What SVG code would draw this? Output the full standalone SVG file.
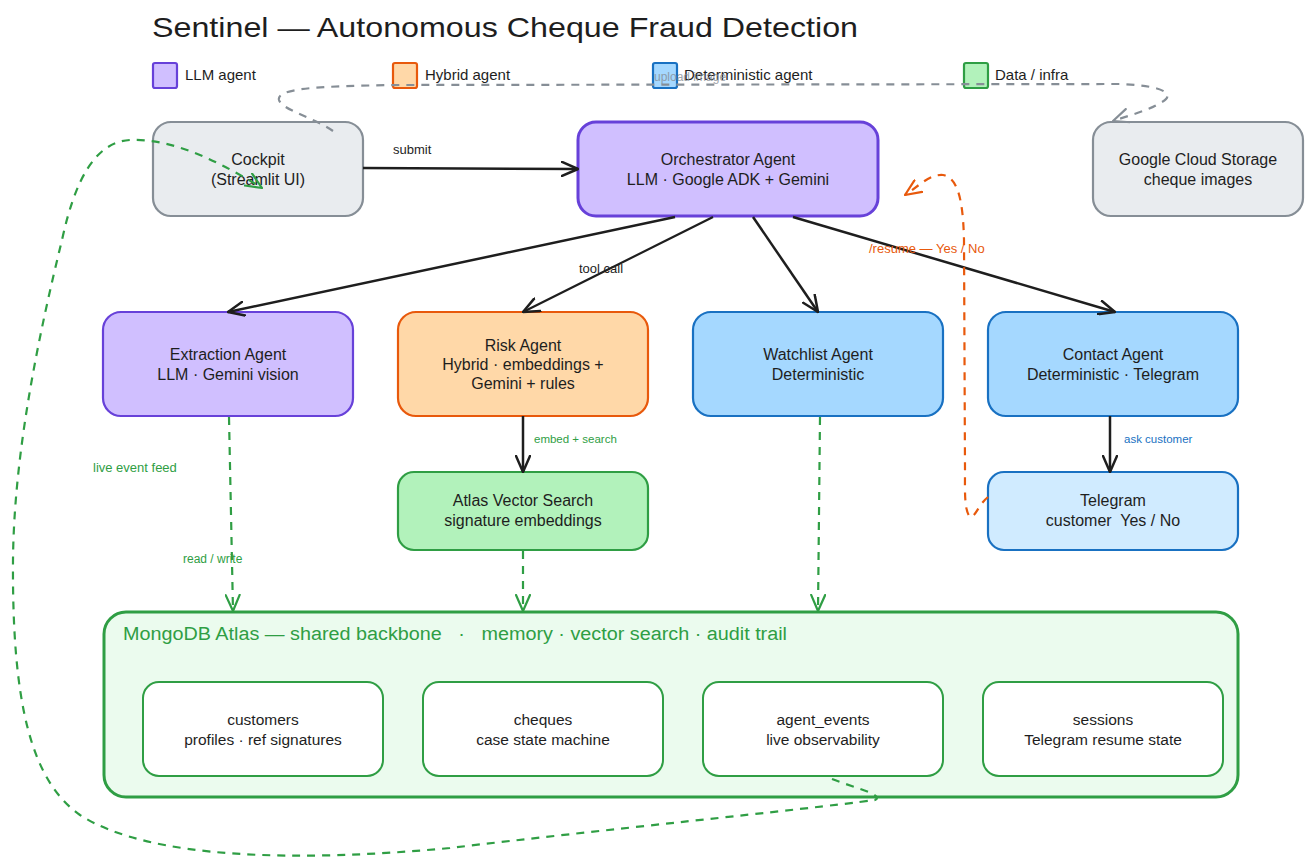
<svg xmlns="http://www.w3.org/2000/svg" width="1313" height="865" viewBox="0 0 1313 865">
<style>
  text { font-family: "Liberation Sans", Arial, sans-serif; fill: #1e1e1e; }
  .nt { font-size: 16px; text-anchor: middle; }
  .st { font-size: 15.5px; text-anchor: middle; }
  .lg { font-size: 15px; }
  .lbl { font-size: 13px; }
  .llm { fill: #d0bfff; stroke: #6741d9; stroke-width: 2.2; }
  .hyb { fill: #ffd8a8; stroke: #e8590c; stroke-width: 2.2; }
  .det { fill: #a5d8ff; stroke: #1971c2; stroke-width: 2.2; }
  .tel { fill: #d0ebff; stroke: #1971c2; stroke-width: 2.2; }
  .dat { fill: #b2f2bb; stroke: #2f9e44; stroke-width: 2.2; }
  .inf { fill: #e9ecef; stroke: #868e96; stroke-width: 2.2; }
  .col { fill: #ffffff; stroke: #2f9e44; stroke-width: 2; }
  .solid { fill: none; stroke: #1e1e1e; stroke-width: 2.5; marker-end: url(#ahB); }
  .gdash { fill: none; stroke: #2f9e44; stroke-width: 2.2; stroke-dasharray: 8 7; marker-end: url(#ahG); }
</style>
<defs>
  <marker id="ahB" viewBox="0 0 18 16" markerWidth="18" markerHeight="16" refX="17" refY="8" orient="auto" markerUnits="userSpaceOnUse">
    <path d="M1,1 L17,8 L1,15" fill="none" stroke="#1e1e1e" stroke-width="2.5" stroke-linecap="round" stroke-linejoin="round"/>
  </marker>
  <marker id="ahG" viewBox="0 0 18 16" markerWidth="18" markerHeight="16" refX="17" refY="8" orient="auto" markerUnits="userSpaceOnUse">
    <path d="M1,1 L17,8 L1,15" fill="none" stroke="#2f9e44" stroke-width="2.2" stroke-linecap="round" stroke-linejoin="round"/>
  </marker>
  <marker id="ahO" viewBox="0 0 18 16" markerWidth="18" markerHeight="16" refX="17" refY="8" orient="auto" markerUnits="userSpaceOnUse">
    <path d="M1,1 L17,8 L1,15" fill="none" stroke="#e8590c" stroke-width="2.2" stroke-linecap="round" stroke-linejoin="round"/>
  </marker>
  <marker id="ahY" viewBox="0 0 18 16" markerWidth="18" markerHeight="16" refX="17" refY="8" orient="auto" markerUnits="userSpaceOnUse">
    <path d="M1,1 L17,8 L1,15" fill="none" stroke="#868e96" stroke-width="2.2" stroke-linecap="round" stroke-linejoin="round"/>
  </marker>
</defs>
<rect width="1313" height="865" fill="#ffffff"/>

<g id="title">
  <text x="152" y="37" font-size="28" textLength="706" lengthAdjust="spacingAndGlyphs">Sentinel — Autonomous Cheque Fraud Detection</text>
</g>

<g id="legend">
  <rect x="153" y="63" width="24" height="25" rx="2" class="llm"/>
  <text x="185" y="80" class="lg">LLM agent</text>
  <rect x="393" y="63" width="24" height="25" rx="2" class="hyb"/>
  <text x="425" y="80" class="lg">Hybrid agent</text>
  <rect x="653" y="63" width="24" height="25" rx="2" class="det"/>
  <text x="684" y="80" class="lg">Deterministic agent</text>
  <rect x="964" y="63" width="24" height="25" rx="2" class="dat"/>
  <text x="995" y="80" class="lg">Data / infra</text>
</g>

<g id="mongodb">
  <rect x="104" y="612" width="1134" height="185" rx="22" fill="#ebfbee" stroke="#2f9e44" stroke-width="3"/>
  <text x="123" y="640" font-size="18" style="fill:#2f9e44" textLength="664" lengthAdjust="spacingAndGlyphs" xml:space="preserve">MongoDB Atlas — shared backbone   ·   memory · vector search · audit trail</text>
</g>
<g id="customers">
  <rect x="143" y="682" width="240" height="94" rx="16" class="col"/>
  <text x="263" y="725" class="st">customers</text>
  <text x="263" y="745" class="st">profiles · ref signatures</text>
</g>
<g id="cheques">
  <rect x="423" y="682" width="240" height="94" rx="16" class="col"/>
  <text x="543" y="725" class="st">cheques</text>
  <text x="543" y="745" class="st">case state machine</text>
</g>
<g id="agent_events">
  <rect x="703" y="682" width="240" height="94" rx="16" class="col"/>
  <text x="823" y="725" class="st">agent_events</text>
  <text x="823" y="745" class="st">live observability</text>
</g>
<g id="sessions">
  <rect x="983" y="682" width="240" height="94" rx="16" class="col"/>
  <text x="1103" y="725" class="st">sessions</text>
  <text x="1103" y="745" class="st">Telegram resume state</text>
</g>

<g id="cockpit">
  <rect x="153" y="122" width="210" height="94" rx="18" class="inf"/>
  <text x="258" y="165" class="nt">Cockpit</text>
  <text x="258" y="185" class="nt">(Streamlit UI)</text>
</g>
<g id="orchestrator">
  <rect x="578" y="122" width="300" height="94" rx="18" class="llm" style="stroke-width:3"/>
  <text x="728" y="165" class="nt">Orchestrator Agent</text>
  <text x="728" y="185" class="nt">LLM · Google ADK + Gemini</text>
</g>
<g id="gcs">
  <rect x="1093" y="122" width="210" height="94" rx="18" class="inf"/>
  <text x="1198" y="165" class="nt">Google Cloud Storage</text>
  <text x="1198" y="185" class="nt">cheque images</text>
</g>
<g id="extraction">
  <rect x="103" y="312" width="250" height="104" rx="18" class="llm"/>
  <text x="228" y="360" class="nt">Extraction Agent</text>
  <text x="228" y="380" class="nt">LLM · Gemini vision</text>
</g>
<g id="risk">
  <rect x="398" y="312" width="250" height="104" rx="18" class="hyb"/>
  <text x="523" y="351" class="nt">Risk Agent</text>
  <text x="523" y="370" class="nt">Hybrid · embeddings +</text>
  <text x="523" y="389" class="nt">Gemini + rules</text>
</g>
<g id="watchlist">
  <rect x="693" y="312" width="250" height="104" rx="18" class="det"/>
  <text x="818" y="360" class="nt">Watchlist Agent</text>
  <text x="818" y="380" class="nt">Deterministic</text>
</g>
<g id="contact">
  <rect x="988" y="312" width="250" height="104" rx="18" class="det"/>
  <text x="1113" y="360" class="nt">Contact Agent</text>
  <text x="1113" y="380" class="nt">Deterministic · Telegram</text>
</g>
<g id="atlas_vector">
  <rect x="398" y="472" width="250" height="78" rx="16" class="dat"/>
  <text x="523" y="506" class="nt">Atlas Vector Search</text>
  <text x="523" y="526" class="nt">signature embeddings</text>
</g>
<g id="telegram">
  <rect x="988" y="472" width="250" height="78" rx="16" class="tel"/>
  <text x="1113" y="506" class="nt">Telegram</text>
  <text x="1113" y="526" class="nt" xml:space="preserve">customer  Yes / No</text>
</g>

<g id="connectors">
  <path d="M363,168 L578,169" class="solid"/>
  <text x="393" y="154" class="lbl">submit</text>

  <path d="M675,217 L228,312" class="solid"/>
  <path d="M713,217 L523,312" class="solid" style="stroke-width:2.2"/>
  <text x="579" y="273" class="lbl">tool call</text>
  <path d="M753,217 L818,312" class="solid"/>
  <path d="M793,217 L1115,312" class="solid"/>

  <path d="M523,416 L523,472" class="solid"/>
  <text x="534" y="443" font-size="11.5" style="fill:#2f9e44">embed + search</text>
  <path d="M1110,416 L1110,472" class="solid"/>
  <text x="1124" y="443" font-size="11.5" style="fill:#1971c2">ask customer</text>

  <path d="M229,417 L233,611" class="gdash"/>
  <text x="183" y="563" font-size="12" style="fill:#2f9e44">read / write</text>
  <path d="M523,551 L523,611" class="gdash"/>
  <path d="M820,417 L818,611" class="gdash"/>

  <path d="M988,497 C 978,505 976,517 970,517 C 964,510 965,490 965,470 L 964,240 C 963,200 958,178 943,175 C 930,174 920,185 905,195" fill="none" stroke="#e8590c" stroke-width="2.2" stroke-dasharray="8 7" marker-end="url(#ahO)"/>
  <text x="869" y="253" font-size="13" style="fill:#e8590c">/resume — Yes / No</text>

  <path d="M333,131 C 315,118 282,110 279,100 C 276,88 320,86 400,85 L 1120,84 C 1170,86 1175,96 1160,103 C 1150,110 1130,115 1113,121" fill="none" stroke="#868e96" stroke-width="2.2" stroke-dasharray="8 7" marker-end="url(#ahY)"/>
  <text x="654" y="81" font-size="12" style="fill:#868e96" opacity="0.8">upload image</text>

  <path d="M832,779 C 855,788 885,795 875,800 C 800,810 600,830 450,848 C 300,862 150,860 80,815 C 30,780 12,700 13,560 C 14,450 40,330 62,240 C 75,180 95,142 130,140 C 175,138 225,165 262,188" class="gdash"/>
  <text x="93" y="472" font-size="13" style="fill:#2f9e44">live event feed</text>
</g>
</svg>
